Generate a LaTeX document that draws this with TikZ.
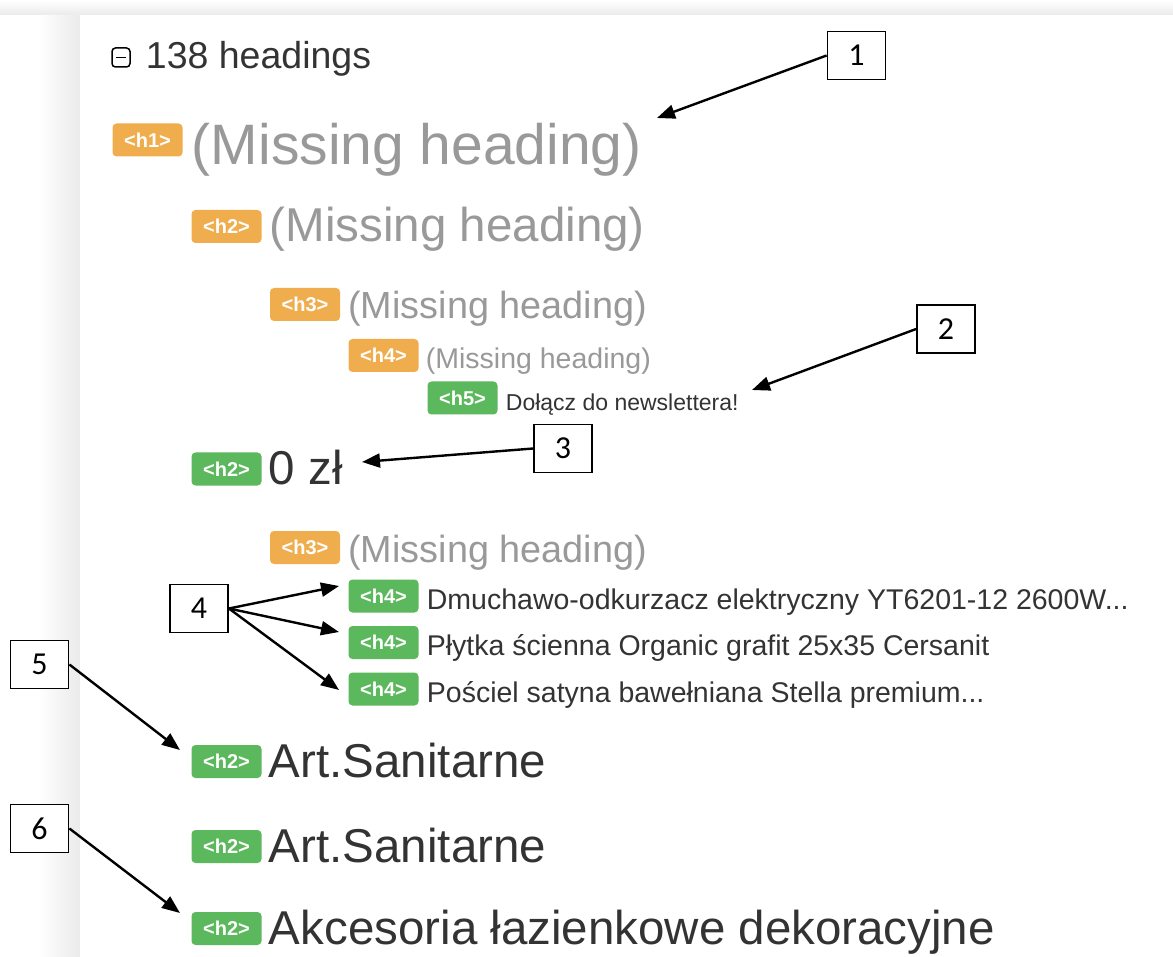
\documentclass[tikz,border=0pt]{standalone}
\usepackage{fontspec}
\setmainfont{Liberation Sans}
\newfontfamily\calloutfont{Carlito}
\usetikzlibrary{positioning, arrows.meta}

\definecolor{tagorange}{RGB}{240,173,78}
\definecolor{taggreen}{RGB}{92,184,92}
\definecolor{mutedtext}{RGB}{153,153,153}
\definecolor{darktext}{RGB}{51,51,51}
\newcommand{\px}[1]{\fontsize{#1}{#1}\selectfont}

\begin{document}
\begin{tikzpicture}[x=1pt, y=-1pt, >={Triangle[length=18pt, width=14pt]},
    tag/.style={rounded corners=4pt, minimum width=70pt, minimum height=33pt, inner sep=0pt, text=white, font=\px{20}\bfseries},
    missing/.style={tag, fill=tagorange},
    found/.style={tag, fill=taggreen},
    head/.style={anchor=base west, inner sep=0pt},
    lvone/.style={font=\px{57}, yshift=-25pt},
    lvtwo/.style={font=\px{47.5}, yshift=-15.5pt},
    lvthree/.style={font=\px{37.8}, yshift=-14.5pt},
    lvfour/.style={font=\px{28.5}, yshift=-13pt},
    lvfive/.style={font=\px{23}, yshift=-12.5pt},
    callout/.style={draw, fill=white, line width=1.8pt, minimum width=58pt, minimum height=48pt, inner sep=0pt, font=\calloutfont\px{32}},
    pointer/.style={->, line width=2.4pt}]

    % Page behind the panel, with the panel's soft edge
    \useasboundingbox (0,0) rectangle (1173,957);
    \fill[white] (0,0) rectangle (1173,957);
    \shade[left color=white, right color=black!8] (38,0) rectangle (80,957);
    \shade[top color=white, bottom color=black!8] (0,0) rectangle (1173,15);
    \fill[white] (80,15) rectangle (1173,957);

    % Header
    \node[draw, line width=1.5pt, rounded corners=3.5pt, minimum width=18pt, minimum height=19pt, inner sep=0pt] (toggle) at (121,57.5) {};
    \draw[line width=1.5pt] ([xshift=4.5pt]toggle.west) -- ([xshift=-4.5pt]toggle.east);
    \node[right=15pt of toggle, head, font=\px{37.5}, text=darktext, yshift=-11pt] (count) {138 headings};

    % Nodes
    \node[missing] (b1) at (147.5,140) {<h1>};
    \node[right=9pt of b1, head, lvone, text=mutedtext] (t1) {(Missing heading)};
    \node[missing] (b2) at (226.5,226.5) {<h2>};
    \node[right=8pt of b2, head, lvtwo, text=mutedtext] (t2) {(Missing heading)};
    \node[missing] (b3) at (305,304.5) {<h3>};
    \node[right=8pt of b3, head, lvthree, text=mutedtext] (t3) {(Missing heading)};
    \node[missing] (b4) at (383.5,355.5) {<h4>};
    \node[right=7pt of b4, head, lvfour, text=mutedtext] (t4) {(Missing heading)};
    \node[found] (b5) at (462.5,398) {<h5>};
    \node[right=8pt of b5, head, lvfive, text=darktext] (t5) {Dołącz do newslettera!};
    \node[found] (b6) at (226.5,469) {<h2>};
    \node[right=7pt of b6, head, lvtwo, text=darktext] (t6) {0 zł};
    \node[missing] (b7) at (305,547.5) {<h3>};
    \node[right=8pt of b7, head, lvthree, text=mutedtext] (t7) {(Missing heading)};
    \node[found] (b8) at (383.5,596) {<h4>};
    \node[right=8pt of b8, head, lvfour, text=darktext] (t8) {Dmuchawo-odkurzacz elektryczny YT6201-12 2600W...};
    \node[found] (b9) at (383.5,642.5) {<h4>};
    \node[right=8pt of b9, head, lvfour, text=darktext] (t9) {Płytka ścienna Organic grafit 25x35 Cersanit};
    \node[found] (b10) at (383.5,689) {<h4>};
    \node[right=8pt of b10, head, lvfour, text=darktext] (t10) {Pościel satyna bawełniana Stella premium...};
    \node[found] (b11) at (226.5,761.5) {<h2>};
    \node[right=7pt of b11, head, lvtwo, text=darktext] (t11) {Art.Sanitarne};
    \node[found] (b12) at (226.5,846.5) {<h2>};
    \node[right=7pt of b12, head, lvtwo, text=darktext] (t12) {Art.Sanitarne};
    \node[found] (b13) at (226.5,928.5) {<h2>};
    \node[right=7pt of b13, head, lvtwo, text=darktext] (t13) {Akcesoria łazienkowe dekoracyjne};

    % Numbered callouts
    \node[callout] (c1) at (856.5,55.5) {1};
    \node[callout] (c2) at (946,329) {2};
    \node[callout] (c3) at (563,448.5) {3};
    \node[callout] (c4) at (199,608.5) {4};
    \node[callout] (c5) at (39.5,664.5) {5};
    \node[callout] (c6) at (39.5,828.5) {6};

    % Where the arrows end
    \coordinate (p1) at (657,118);
    \coordinate (p2) at (752,390);
    \coordinate (p3) at (362,462);
    \coordinate (p4a) at (339,586);
    \coordinate (p4b) at (339,632);
    \coordinate (p4c) at (339,690);
    \coordinate (p5) at (180,750);
    \coordinate (p6) at (180,913);

    % Arrows
    \path[pointer]
        (c1.west) edge (p1)
        (c2.west) edge (p2)
        (c3.west) edge (p3)
        (c4.east) edge (p4a)
                  edge (p4b)
                  edge (p4c)
        (c5.east) edge (p5)
        (c6.east) edge (p6);
\end{tikzpicture}
\end{document}
